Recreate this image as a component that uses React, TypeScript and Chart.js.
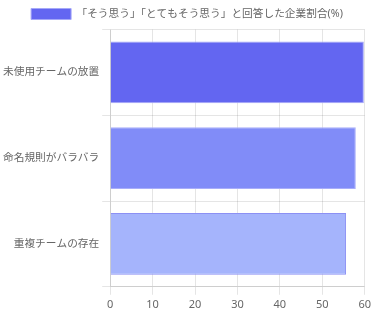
import React, { useEffect, useRef } from "react";
import { Chart, registerables } from "chart.js";

Chart.register(...registerables);

const categories = ["未使用チームの放置", "命名規則がバラバラ", "重複チームの存在"];
const values = [59.8, 57.9, 55.6];
const seriesLabel = "「そう思う」「とてもそう思う」と回答した企業割合(%)";
const fillColors = ["#6366f1", "#818cf8", "#a5b4fc"];
const borderColors = ["#a5a8f8", "#a9aefa", "#8c90f4"];

export default function App() {
  const ref = useRef<HTMLCanvasElement | null>(null);
  useEffect(() => {
    document.body.style.margin = "0";
    if (!ref.current) return;
    Chart.defaults.font.family = "'Noto Sans', 'Noto Sans CJK JP', sans-serif";
    Chart.defaults.font.size = 10.7;
    const chart = new Chart(ref.current, {
      type: "bar",
      data: {
        labels: categories,
        datasets: [
          {
            label: seriesLabel,
            data: values,
            backgroundColor: fillColors,
            borderColor: borderColors,
            borderWidth: 1,
          },
        ],
      },
      options: {
        indexAxis: "y",
        animation: false,
        responsive: true,
        maintainAspectRatio: false,
        scales: {
          x: { beginAtZero: true, max: 60, ticks: { stepSize: 10, font: { size: 11 } } },
          y: {},
        },
        plugins: {
          legend: { display: true, labels: { padding: 8.5, boxHeight: 11 } },
          tooltip: { enabled: false },
        },
      },
    });
    return () => chart.destroy();
  }, []);
  return (
    <div style={{ width: 374, height: 314, position: "relative" }}>
      <canvas ref={ref} />
    </div>
  );
}
